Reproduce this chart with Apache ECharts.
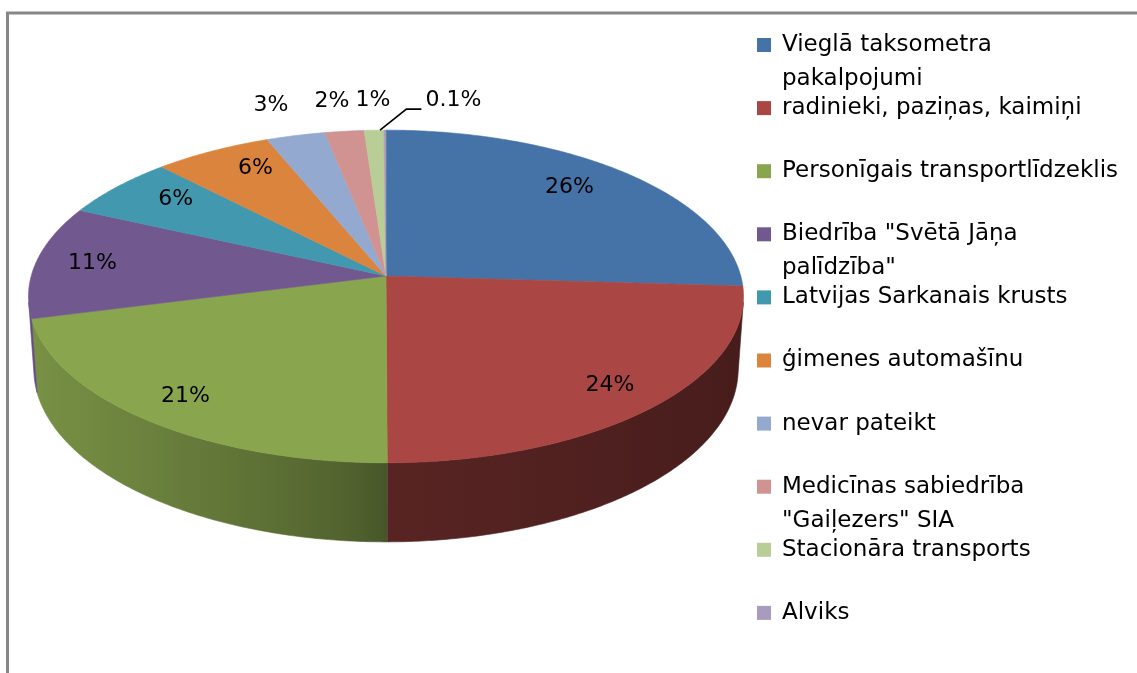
<!DOCTYPE html>
<html><head><meta charset="utf-8">
<style>html,body{margin:0;padding:0;background:#fff;} #c{width:1137px;height:673px;}</style>
<script src="https://cdn.jsdelivr.net/npm/echarts@6/dist/echarts.min.js"></script>
</head><body><div id="c"></div>
<script>
// ---- data ----
const categories = [
  'Vieglā taksometra\npakalpojumi',
  'radinieki, paziņas, kaimiņi',
  'Personīgais transportlīdzeklis',
  'Biedrība "Svētā Jāņa\npalīdzība"',
  'Latvijas Sarkanais krusts',
  'ģimenes automašīnu',
  'nevar pateikt',
  'Medicīnas sabiedrība\n"Gaiļezers" SIA',
  'Stacionāra transports',
  'Alviks'
];
const values = [26, 24, 21, 11, 6, 6, 3, 2, 1, 0.1];
const colors = ['#4572a7', '#aa4643', '#89a54e', '#71588f', '#4198af',
                '#db843d', '#93a9cf', '#d19392', '#b9cd96', '#a99bbd'];

// ---- 3D pie projection (layout) ----
const FONT_FAMILY = '"DejaVu Sans", sans-serif';
const FONT_SIZE = 22;
const LEGEND_FONT_SIZE = 23;
const CX = 386, CY = 276;
const DIST = 7.21, FOC = 2558;
const ELEV = 27.5 * Math.PI / 180;
const SE = Math.sin(ELEV), CE = Math.cos(ELEV);
const DEPTH = 0.233;
const TAU = Math.PI * 2;
function proj(X, Y, Z) {
  const yp = Y * CE + Z * SE, zp = -Y * SE + Z * CE;
  const s = FOC / (DIST + zp);
  return [CX + X * s, CY - yp * s];
}
function rim(th, r, Y) { return proj(r * Math.sin(th), Y, r * Math.cos(th)); }
const VIS = Math.acos(-1 / (DIST * CE));      // side wall visible between VIS and TAU-VIS
const VIS0 = VIS, VIS1 = TAU - VIS;

function shade(hex, f) {
  const n = parseInt(hex.slice(1), 16);
  const r = Math.min(255, Math.round(((n >> 16) & 255) * f));
  const g = Math.min(255, Math.round(((n >> 8) & 255) * f));
  const b = Math.min(255, Math.round((n & 255) * f));
  return 'rgb(' + r + ',' + g + ',' + b + ')';
}
function sideF(th) {
  const s = -Math.sin(th);
  return s > 0 ? 0.52 + 0.37 * Math.pow(s, 0.7) : 0.52 + 0.11 * s;
}

const total = values.reduce((a, b) => a + b, 0);
const starts = [];
{ let acc = 0; values.forEach(v => { starts.push(acc / total); acc += v; }); }

const mctx = document.createElement('canvas').getContext('2d');
mctx.font = FONT_SIZE + 'px ' + FONT_FAMILY;

// label layout computed from the data
const labelLayout = [];
{
  let prevRight = -Infinity;
  values.forEach((v, i) => {
    const frac = v / total;
    const mid = (starts[i] + frac / 2) * TAU;
    const text = v + '%';
    const w = mctx.measureText(text).width;
    if (frac >= 0.04) {
      const rx = 0.85 - 0.13 * Math.max(0, Math.cos(mid)), rz = 0.85;
      const p = proj(rx * Math.sin(mid), 0, rz * Math.cos(mid));
      labelLayout[i] = { text, x: p[0], y: p[1], align: 'center' };
    } else {
      const rp = rim(mid, 1, 0);
      const x = CX + 1.25 * (rp[0] - CX) - 2;
      const y = rp[1] - 30;
      let left = x - w / 2;
      let leader = null;
      if (left < prevRight + 6) {
        if (prevRight + 6 - left > 15) {
          left = prevRight + 35;
          leader = [[rp[0] - 5, rp[1]], [left - 19, y + 9], [left - 4, y + 9]];
        } else {
          left = prevRight + 6;
        }
      }
      prevRight = left + w;
      labelLayout[i] = { text, x: left, y, align: 'left', leader };
    }
  });
}

function makeRender(i) {
  return function (params, api) {
    const a = starts[i] * TAU;
    const b = (starts[i] + values[i] / total) * TAU;
    const col = colors[i];
    const children = [];
    // top face
    const n = Math.max(2, Math.ceil((b - a) / (Math.PI / 360)));
    const pts = [proj(0, 0, 0)];
    for (let j = 0; j <= n; j++) pts.push(rim(a + (b - a) * j / n, 1, 0));
    children.push({ type: 'polygon', shape: { points: pts },
      style: { fill: col, stroke: col, lineWidth: 0.6 }, z2: 2 });
    // side wall
    const sa = Math.max(a, VIS0), sb = Math.min(b, VIS1);
    if (sb > sa) {
      const m = Math.max(2, Math.ceil((sb - sa) / (Math.PI / 360)));
      const topPts = [], botPts = [];
      for (let j = 0; j <= m; j++) {
        const th = sa + (sb - sa) * j / m;
        topPts.push(rim(th, 1, 0));
        botPts.push(rim(th, 1, -DEPTH));
      }
      const poly = topPts.concat(botPts.reverse());
      const x0 = topPts[0][0], x1 = topPts[topPts.length - 1][0];
      let fill;
      if (Math.abs(x1 - x0) < 1) {
        fill = shade(col, sideF((sa + sb) / 2));
      } else {
        const stops = [];
        const K = 24;
        for (let j = 0; j <= K; j++) {
          const th = sa + (sb - sa) * j / K;
          const px = rim(th, 1, 0)[0];
          stops.push({ offset: Math.min(1, Math.max(0, (px - x0) / (x1 - x0))), color: shade(col, sideF(th)) });
        }
        stops.sort((p, q) => p.offset - q.offset);
        fill = new echarts.graphic.LinearGradient(x0, 0, x1, 0, stops, true);
      }
      children.push({ type: 'polygon', shape: { points: poly },
        style: { fill: fill, stroke: fill, lineWidth: 0.6 }, z2: 1 });
    }
    // label
    const L = labelLayout[i];
    children.push({ type: 'text', z2: 10,
      style: { text: L.text, x: L.x, y: L.y, align: L.align, verticalAlign: 'middle',
               fill: '#000', font: FONT_SIZE + 'px ' + FONT_FAMILY } });
    if (L.leader) {
      children.push({ type: 'polyline', z2: 10, shape: { points: L.leader },
        style: { stroke: '#000', lineWidth: 1.6, fill: null } });
    }
    return { type: 'group', children };
  };
}

const LEG_TOP = 45, LEG_STEP = 63.1, LINE_H = 34;
const legends = categories.map((name, i) => {
  const extra = name.split('\n').length - 1;
  const c = LEG_TOP + LEG_STEP * i;
  return {
    show: true, orient: 'vertical', left: 757, top: c - LINE_H / 2 - extra * LINE_H,
    padding: 0, itemWidth: 14, itemHeight: 14, icon: 'rect', selectedMode: false,
    formatter: n => '\n'.repeat(extra) + n,
    textStyle: { fontFamily: FONT_FAMILY, fontSize: LEGEND_FONT_SIZE, lineHeight: LINE_H,
                 color: '#000', padding: [0, 0, 0, 6] },
    data: [name]
  };
});

const chart = echarts.init(document.getElementById('c'), null, { renderer: 'canvas' });
chart.setOption({
  animation: false,
  color: colors,
  legend: legends,
  graphic: [{ type: 'rect', silent: true, shape: { x: 7.5, y: 13, width: 1300, height: 800 },
    style: { fill: null, stroke: '#878787', lineWidth: 3 } }],
  series: categories.map((name, i) => ({
    type: 'custom', name: name, coordinateSystem: 'none',
    data: [[values[i]]], renderItem: makeRender(i), silent: true
  }))
});
</script>
</body></html>
